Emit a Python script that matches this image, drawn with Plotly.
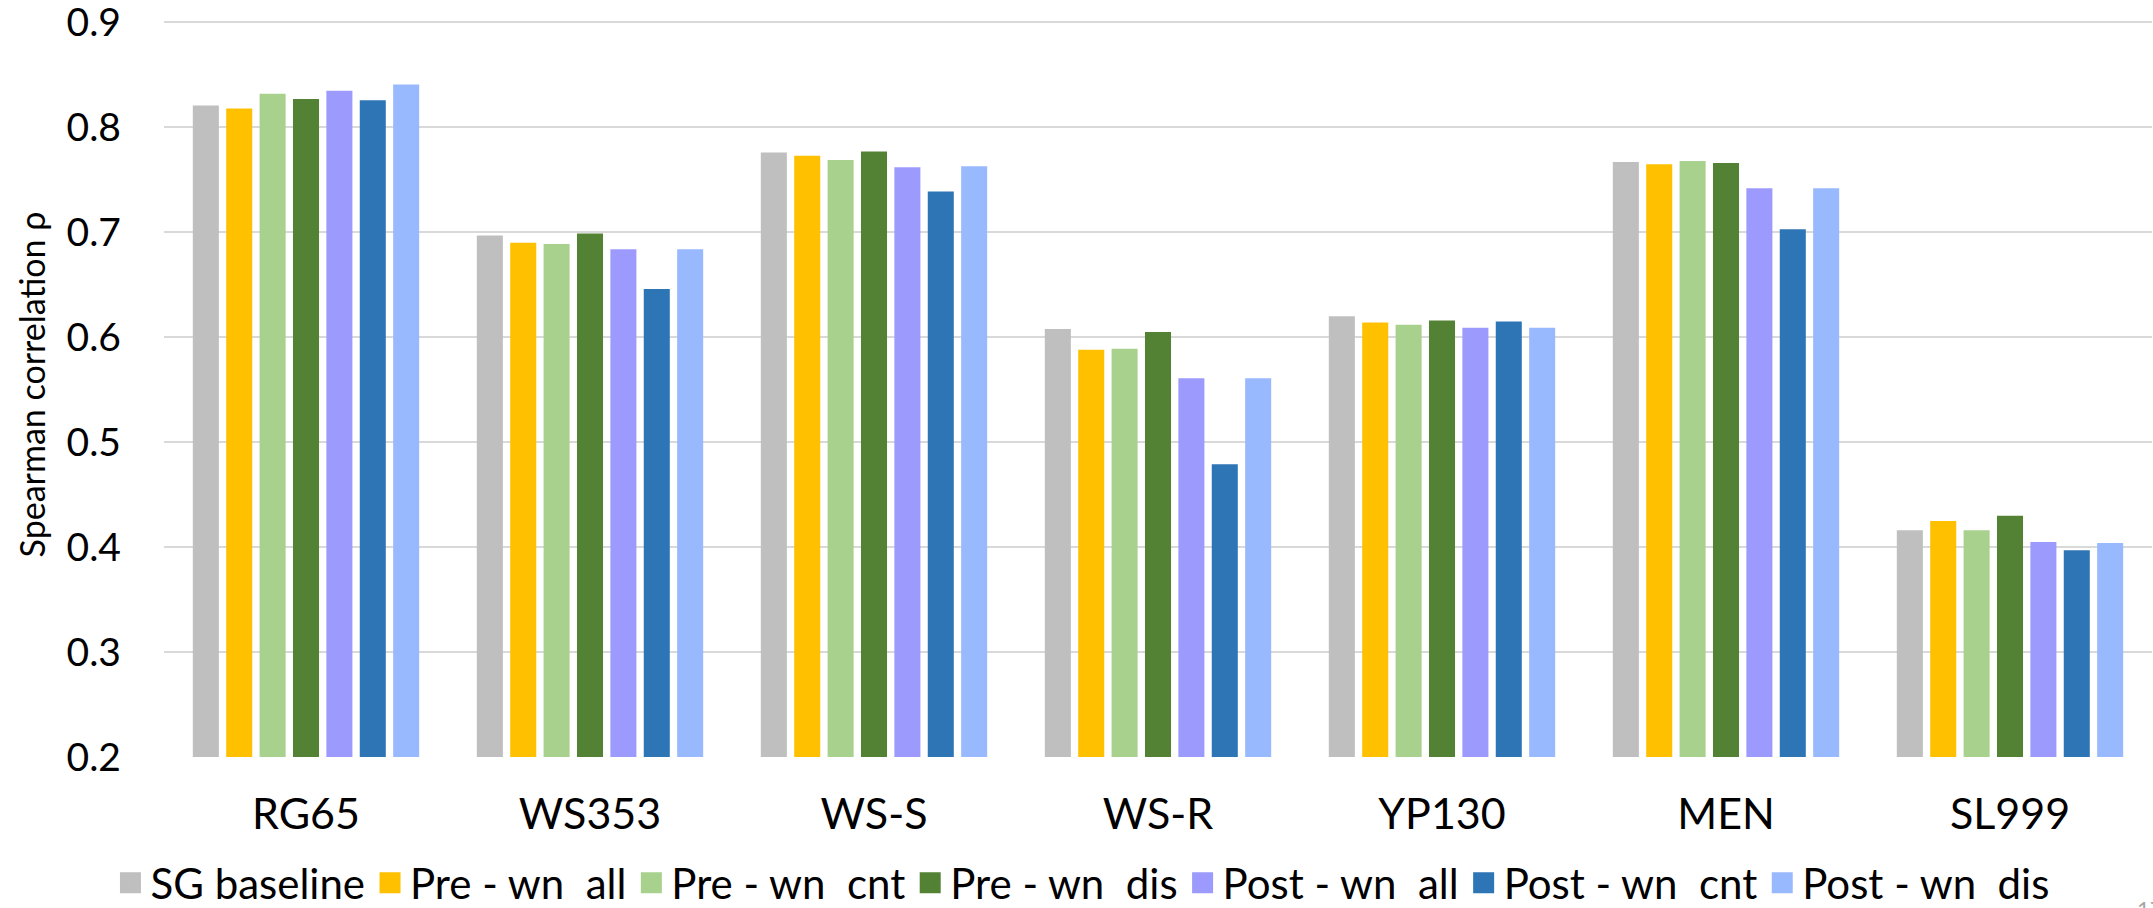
import plotly.graph_objects as go

# Benchmarks on the x axis
datasets = ["RG65", "WS353", "WS-S", "WS-R", "YP130", "MEN", "SL999"]

# Spearman correlation per model variant
sg_baseline  = [0.821, 0.697, 0.776, 0.608, 0.620, 0.767, 0.416]
pre_wn_all   = [0.818, 0.690, 0.773, 0.588, 0.614, 0.765, 0.425]
pre_wn_cnt   = [0.832, 0.689, 0.769, 0.589, 0.612, 0.768, 0.416]
pre_wn_dis   = [0.827, 0.699, 0.777, 0.605, 0.616, 0.766, 0.430]
post_wn_all  = [0.835, 0.684, 0.762, 0.561, 0.609, 0.742, 0.405]
post_wn_cnt  = [0.826, 0.646, 0.739, 0.479, 0.615, 0.703, 0.397]
post_wn_dis  = [0.841, 0.684, 0.763, 0.561, 0.609, 0.742, 0.404]

series_names = ["SG baseline", "Pre - wn\u00a0 all", "Pre - wn\u00a0 cnt", "Pre - wn\u00a0 dis",
                "Post - wn\u00a0 all", "Post - wn\u00a0 cnt", "Post - wn\u00a0 dis"]
series_values = [sg_baseline, pre_wn_all, pre_wn_cnt, pre_wn_dis,
                 post_wn_all, post_wn_cnt, post_wn_dis]
series_colors = ["#BFBFBF", "#FFC000", "#A9D18E", "#548235",
                 "#9C9BFD", "#2E75B6", "#99B9FF"]

y_ticks = [0.2, 0.3, 0.4, 0.5, 0.6, 0.7, 0.8, 0.9]

FONT = "Lato, 'Open Sans', sans-serif"

fig = go.Figure()

for name, vals, color in zip(series_names, series_values, series_colors):
    fig.add_trace(go.Bar(
        x=datasets, y=vals, name=name, legendgroup=name, showlegend=False,
        marker=dict(color=color, line=dict(width=0)),
    ))

# legend entries with larger square swatches
for name, color in zip(series_names, series_colors):
    fig.add_trace(go.Scatter(
        x=[datasets[0]], y=[None], name=name, legendgroup=name, mode="markers",
        marker=dict(symbol="square", size=16, color=color,
                    line=dict(color=color, width=5)),
        hoverinfo="skip",
    ))

fig.update_layout(
    width=2153, height=908,
    margin=dict(l=164, r=1, t=11.5, b=151, autoexpand=False),
    paper_bgcolor="white", plot_bgcolor="white",
    barmode="group", bargap=0.177, bargroupgap=0.22,
    font=dict(family=FONT, color="#000000", size=42),
    showlegend=True,
    legend=dict(
        orientation="h", x=0.462, xanchor="center", y=-0.169, yanchor="middle",
        font=dict(family=FONT, size=42, color="#000000"),
        itemsizing="trace", traceorder="normal",
        bgcolor="rgba(0,0,0,0)",
    ),
    annotations=[dict(
        text="17", xref="paper", yref="paper", x=0.9915, y=-0.1824,
        xanchor="left", yanchor="top", showarrow=False,
        font=dict(family=FONT, size=22, color="#A6A6A6"),
    )],
)

fig.update_xaxes(
    type="category", showgrid=False, zeroline=False,
    showline=False, ticks="", ticklabelstandoff=28,
    tickfont=dict(family=FONT, size=43, color="#000000"),
    automargin=False,
)

fig.update_yaxes(
    range=[0.2, 0.91], tickvals=y_ticks, ticktext=[f"{v:.1f}" for v in y_ticks],
    showgrid=True, gridcolor="#D9D9D9", gridwidth=2,
    zeroline=False, showline=False, ticks="", ticklabelstandoff=42,
    ticklabeloverflow="allow",
    tickfont=dict(family=FONT, size=39, color="#000000"),
    title=dict(text="Spearman correlation ρ", standoff=10,
               font=dict(family=FONT, size=34, color="#000000")),
    automargin=False,
)

fig.write_html("out.html")
